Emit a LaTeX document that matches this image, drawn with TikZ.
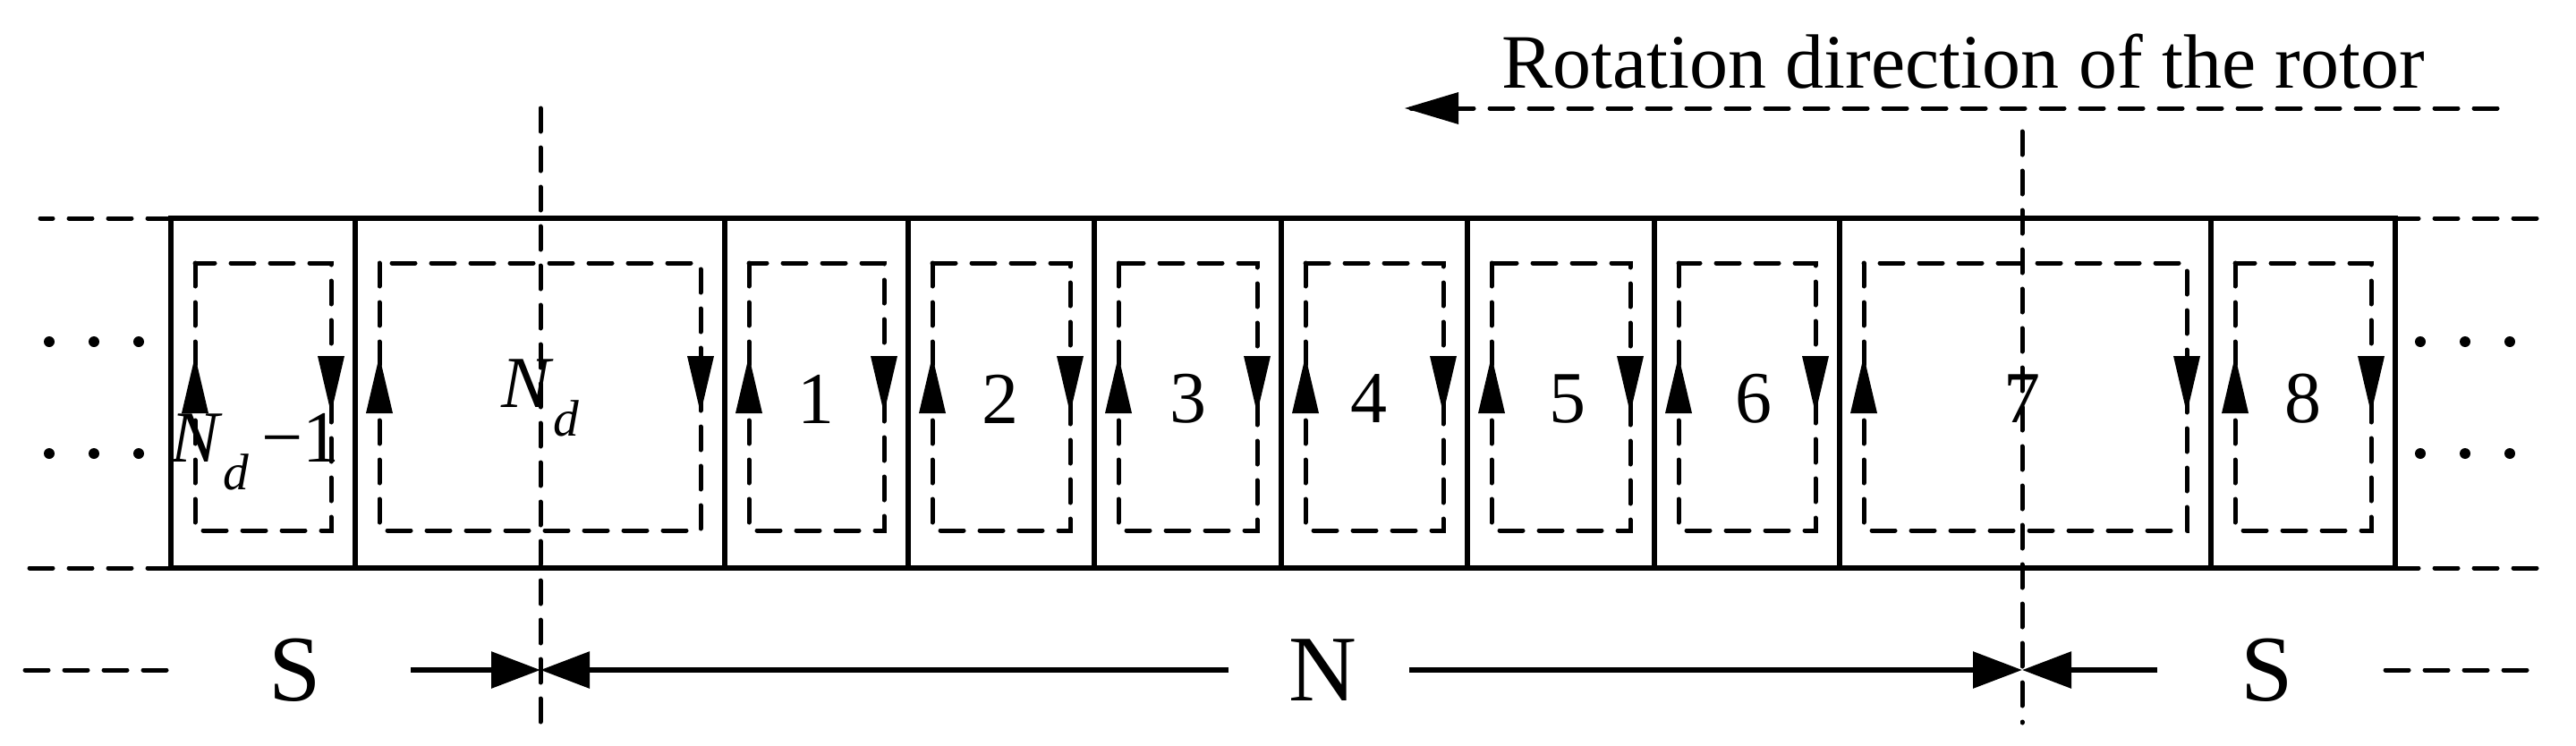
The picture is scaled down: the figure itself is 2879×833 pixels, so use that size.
\documentclass[tikz,border=0pt]{standalone}
\usepackage{fontspec}
\setmainfont{Liberation Serif}
\usetikzlibrary{arrows.meta}
\begin{document}
\begin{tikzpicture}[x=1pt,y=-1pt,
  solid line/.style={line width=6pt},
  dash line/.style={line width=5pt,dash pattern=on 26pt off 18pt,line cap=round},
  tri/.style={fill=black},
  lab/.style={font=\fontsize{82}{82}\selectfont,inner sep=0pt},
  big/.style={font=\fontsize{105}{105}\selectfont,inner sep=0pt},
  dim/.style={line width=6pt,-{Triangle[length=55pt,width=40pt]}}]
\useasboundingbox (0,0) rectangle (2879,833);
% outer strip
\draw[solid line] (191,244) rectangle (2677,635);
\foreach \x in {397,810,1015,1223,1432,1640,1849,2056,2471}
  \draw[solid line] (\x,244) -- (\x,635);
% side dashes
\draw[dash line] (191,244) -- (45,244);
\draw[dash line] (191,635) -- (25,635);
\draw[dash line] (2677,244) -- (2835,244);
\draw[dash line] (2677,635) -- (2835,635);
\foreach \y in {382,507}{
  \foreach \x in {55,105,155,2705,2755,2805}
    \fill (\x,\y) circle (6pt);}
% inner loops
\foreach \l/\r in {191/397,397/810,810/1015,1015/1223,1223/1432,1432/1640,1640/1849,1849/2056,2056/2471,2471/2677}{
  \draw[dash line] (\l+27,294) rectangle (\r-27,593);
  \fill[tri] (\l+27,398) -- (\l+12,462) -- (\l+42,462) -- cycle;
  \fill[tri] (\r-27,462) -- (\r-42,398) -- (\r-12,398) -- cycle;
}
% labels
\node[lab] (nd1) at (285,505) {\textit{N}\textsubscript{\textit{d}}\,−1};
\node[lab] (nd) at (604,445) {\textit{N}\textsubscript{\textit{d}}};
\foreach \t/\x in {1/912,2/1118,3/1328,4/1530,5/1752,6/1960,7/2260,8/2574}
  \node[lab] (n\t) at (\x,446) {\t};
% axis lines
\draw[dash line] (604,121) -- (604,808);
\draw[dash line] (2260,147) -- (2260,808);
% rotation
\node[lab,anchor=south,font=\fontsize{86}{86}\selectfont] (rot) at (2194,100) {Rotation direction of the rotor};
\coordinate (re) at (2791,121);
\coordinate (rs) at (1570,121);
\draw[dash line] (re) -- (rs);
\fill (1570,121) -- (1630,103) -- (1630,139) -- cycle;
% bottom
\node[big] (S1) at (330,749) {S};
\node[big] (N) at (1478,749) {N};
\node[big] (S2) at (2534,749) {S};
\coordinate (a1) at (604,749);
\coordinate (a2) at (2260,749);
\draw[dim] (459,749) -- (a1);
\draw[dim] (1373,749) -- (a1);
\draw[dim] (1575,749) -- (a2);
\draw[dim] (2411,749) -- (a2);
\draw[dash line] (28,749) -- (193,749);
\draw[dash line] (2666,749) -- (2828,749);
\end{tikzpicture}
\end{document}
